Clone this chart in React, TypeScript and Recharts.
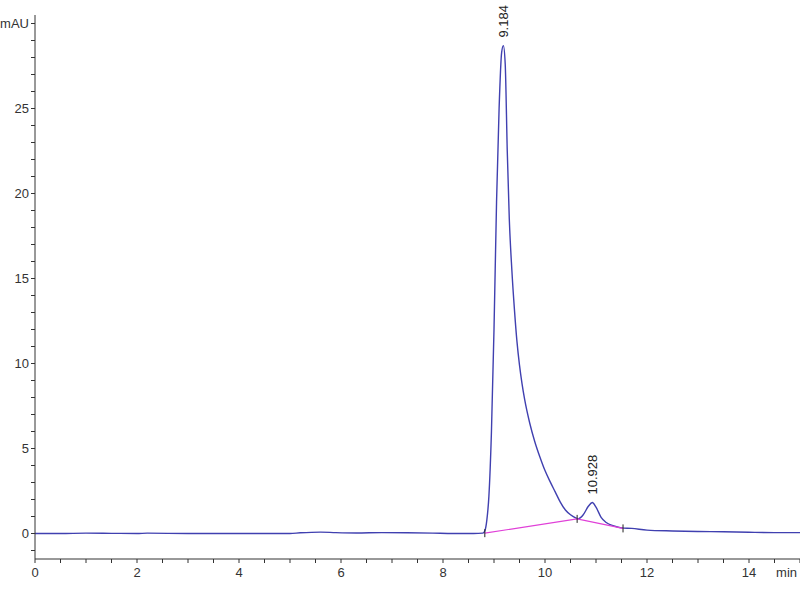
import React from 'react';
import {
  ComposedChart,
  Line,
  Scatter,
  XAxis,
  YAxis,
} from 'recharts';

// retention time (min) and detector signal (mAU)
const times = [
  0, 0.5, 1, 1.5, 2, 2.2, 3, 4, 5, 5.2, 5.6, 5.9, 6.3, 6.8, 7.3, 7.8, 8.2, 8.6,
  8.78, 8.82, 8.86, 8.9, 8.95, 9.0, 9.05, 9.1, 9.15, 9.184, 9.22, 9.26, 9.3,
  9.35, 9.4, 9.45, 9.5, 9.55, 9.6, 9.7, 9.8, 9.9, 10.0, 10.1, 10.2, 10.3, 10.4, 10.5, 10.6,
  10.65, 10.75, 10.85, 10.928, 11.0, 11.1, 11.2, 11.35, 11.5, 11.7, 12.0, 12.5,
  13.0, 13.5, 14.0, 14.5, 15.0,
];
const signal = [
  0, 0, 0.02, 0.01, 0, 0.02, 0, 0, 0, 0.04, 0.08, 0.05, 0.03, 0.05, 0.04, 0.02, 0, 0,
  0.02, 0.15, 0.8, 2.2, 6, 12, 19.5, 25, 28.3, 28.7, 27.6, 22.5, 18.5,
  15.5, 13.2, 11.3, 9.9, 8.8, 7.9, 6.5, 5.4, 4.5, 3.7, 3.05, 2.45, 1.85, 1.38, 1.1, 0.92,
  0.86, 1.1, 1.6, 1.82, 1.55, 0.95, 0.65, 0.45, 0.33, 0.3, 0.2, 0.15,
  0.12, 0.1, 0.07, 0.05, 0.05,
];

// integration baseline drawn under the peaks
const baseTimes = [8.82, 10.63, 11.53];
const baseValues = [0.02, 0.86, 0.3];

// peak annotations
const peakTimes = [9.184, 10.928];
const peakHeights = [28.7, 1.82];
const peakLabels = ['9.184', '10.928'];

const xTicks = [0, 0.5, 1, 1.5, 2, 2.5, 3, 3.5, 4, 4.5, 5, 5.5, 6, 6.5, 7, 7.5, 8, 8.5, 9, 9.5, 10, 10.5, 11, 11.5, 12, 12.5, 13, 13.5, 14, 14.5, 15];
const yTicks = [-1, 0, 1, 2, 3, 4, 5, 6, 7, 8, 9, 10, 11, 12, 13, 14, 15, 16, 17, 18, 19, 20, 21, 22, 23, 24, 25, 26, 27, 28, 29, 30];

const trace = times.map((t, i) => ({ t, v: signal[i] }));
const baseline = baseTimes.map((t, i) => ({ t, b: baseValues[i] }));
const peaks = peakTimes.map((t, i) => ({ t, p: peakHeights[i], label: peakLabels[i] }));

const FONT = '"Liberation Sans", Arial, sans-serif';

const XTick = ({ x, y, payload }: any) => {
  const v = payload.value;
  let text = '';
  let anchor: 'middle' | 'end' = 'middle';
  if (v === 15) {
    text = 'min';
    anchor = 'end';
  } else if (v % 2 === 0) {
    text = String(v);
  }
  return (
    <text
      x={v === 15 ? x - 3 : x}
      y={y + 12}
      textAnchor={anchor}
      fontSize={13}
      fontFamily={FONT}
      fill="#333"
    >
      {text}
    </text>
  );
};

const PeakLabel = (props: any) => {
  const { cx, cy, payload } = props;
  const y0 = cy - 8;
  return (
    <text
      x={cx}
      y={y0}
      transform={`rotate(-90, ${cx}, ${y0})`}
      dominantBaseline="central"
      fontSize={13}
      fontFamily={FONT}
      fill="#222"
    >
      {payload.label}
    </text>
  );
};

const BaseTick = (props: any) => {
  const { cx, cy, index } = props;
  return <line key={index} x1={cx} x2={cx} y1={cy - 4} y2={cy + 4} stroke="#222" strokeWidth={1} />;
};

export default function App() {
  return (
    <div style={{ position: 'fixed', left: 0, top: 0, width: 800, height: 600, background: '#fff' }}>
      <ComposedChart
        width={800}
        height={600}
        margin={{ top: 15, right: 0, bottom: 0, left: 0 }}
      >
        <XAxis
          dataKey="t"
          type="number"
          domain={[0, 15]}
          ticks={xTicks}
          interval={0}
          height={41}
          tickSize={4}
          stroke="#333"
          tick={<XTick />}
        />
        <YAxis
          type="number"
          domain={[-1.5, 30.5]}
          ticks={yTicks}
          interval={0}
          width={35}
          tickSize={4}
          stroke="#333"
          tick={{ fontSize: 13, fontFamily: FONT, fill: '#333' }}
          tickFormatter={(v: number) => (v === 30 ? 'mAU' : v % 5 === 0 && v >= 0 ? String(v) : '')}
        />
        <Line
          data={trace}
          dataKey="v"
          type="monotone"
          stroke="#4040b0"
          strokeWidth={1.4}
          dot={false}
          isAnimationActive={false}
        />
        <Line
          data={baseline}
          dataKey="b"
          type="linear"
          stroke="#e040d8"
          strokeWidth={1.2}
          dot={<BaseTick />}
          isAnimationActive={false}
        />
        <Scatter
          data={peaks}
          dataKey="p"
          shape={<PeakLabel />}
          isAnimationActive={false}
        />
      </ComposedChart>
    </div>
  );
}
